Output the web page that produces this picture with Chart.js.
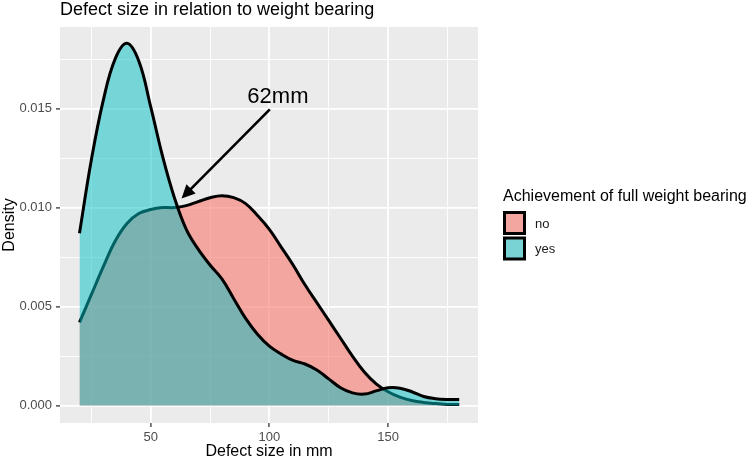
<!DOCTYPE html>
<html>
<head>
<meta charset="utf-8">
<script src="https://cdn.jsdelivr.net/npm/chart.js@4.4.1/dist/chart.umd.min.js"></script>
<style>
html,body{margin:0;padding:0;background:#fff;}
#wrap{width:750px;height:461px;position:relative;}
canvas{display:block;}
</style>
</head>
<body>
<div id="wrap"><canvas id="c" width="750" height="461"></canvas></div>
<script>
// ---- data ----
const defectSizes = [20,25,30,35,40,45,50,55,60,65,70,75,80,85,90,95,100,105,110,115,120,125,130,135,140,145,150,155,160,165,170,175,180];
const densityNo  = [0.0042,0.0056,0.0070,0.0083,0.0092,0.0097,0.0099,0.0100,0.0100,0.0101,0.0103,0.0105,0.0106,0.0105,0.0102,0.0096,0.0089,0.0080,0.0071,0.0061,0.0052,0.0043,0.0034,0.0025,0.0017,0.0011,0.0007,0.00043,0.00026,0.00016,0.0001,0.00006,0.00005];
const densityYes = [0.0087,0.0124,0.0154,0.0175,0.0183,0.0174,0.0151,0.0126,0.0105,0.0089,0.0079,0.0071,0.0064,0.0054,0.0044,0.0036,0.0030,0.0026,0.00228,0.0021,0.0018,0.00135,0.0009,0.00064,0.00058,0.00074,0.0009,0.00088,0.0007,0.00046,0.00035,0.00031,0.00031];
const seriesNames = ['no','yes'];
const xTicks = [25,50,75,100,125,150,175];
const xTickLabels = ['','50','','100','','150',''];
const yTicks = [0,0.0025,0.005,0.0075,0.01,0.0125,0.015,0.0175];
const yTickLabels = ['0.000','','0.005','','0.010','','0.015',''];
const noteText = '62mm';
const noteArrow = [100.2, 0.01496, 63, 0.01046]; // from (x,y) to (x,y) in data units
const notePos = [103.6, 0.01528];

const FAMILY = "'Liberation Sans', Arial, Helvetica, sans-serif";
Chart.defaults.font.family = FAMILY;

const fills = ['rgba(248,118,109,0.6)', 'rgba(0,191,196,0.5)'];
const keyFills = ['#F3A59F', '#79D3D5'];

const panelBg = {
  id: 'panelBg',
  beforeDraw(chart) {
    const {ctx, chartArea: a} = chart;
    ctx.save();
    ctx.fillStyle = '#ffffff';
    ctx.fillRect(0, 0, chart.width, chart.height);
    ctx.fillStyle = '#EBEBEB';
    ctx.fillRect(a.left, a.top, a.right - a.left, a.bottom - a.top);
    ctx.restore();
  }
};

const notePlugin = {
  id: 'note',
  afterDatasetsDraw(chart) {
    const {ctx, scales: {x, y}} = chart;
    const x1 = x.getPixelForValue(noteArrow[0]), y1 = y.getPixelForValue(noteArrow[1]);
    const x2 = x.getPixelForValue(noteArrow[2]), y2 = y.getPixelForValue(noteArrow[3]);
    const ang = Math.atan2(y2 - y1, x2 - x1);
    const hl = 15, hw = Math.PI / 7;
    ctx.save();
    ctx.strokeStyle = '#000'; ctx.fillStyle = '#000';
    ctx.lineWidth = 2.6; ctx.lineCap = 'butt';
    ctx.beginPath();
    ctx.moveTo(x1, y1);
    ctx.lineTo(x2 - Math.cos(ang) * hl * 0.8, y2 - Math.sin(ang) * hl * 0.8);
    ctx.stroke();
    ctx.beginPath();
    ctx.moveTo(x2, y2);
    ctx.lineTo(x2 - hl * Math.cos(ang - hw), y2 - hl * Math.sin(ang - hw));
    ctx.lineTo(x2 - hl * Math.cos(ang + hw), y2 - hl * Math.sin(ang + hw));
    ctx.closePath();
    ctx.fill();
    ctx.font = '22px ' + FAMILY;
    ctx.textAlign = 'center'; ctx.textBaseline = 'alphabetic';
    ctx.fillText(noteText, x.getPixelForValue(notePos[0]), y.getPixelForValue(notePos[1]));
    ctx.restore();
  }
};

const legendPlugin = {
  id: 'ggLegend',
  afterDraw(chart) {
    const ctx = chart.ctx;
    const left = chart.chartArea.right + 25;
    ctx.save();
    ctx.fillStyle = '#000';
    ctx.font = '16px ' + FAMILY;
    ctx.textAlign = 'left'; ctx.textBaseline = 'alphabetic';
    ctx.fillText('Achievement of full weight bearing', left, 201);
    seriesNames.forEach((name, i) => {
      const top = 212 + i * 25.5;
      ctx.fillStyle = keyFills[i];
      ctx.fillRect(left + 1.5, top + 0.5, 20, 21);
      ctx.strokeStyle = '#000'; ctx.lineWidth = 3;
      ctx.strokeRect(left + 1.5, top + 0.5, 20, 21);
      ctx.fillStyle = '#1a1a1a';
      ctx.font = '13px ' + FAMILY;
      ctx.textBaseline = 'middle';
      ctx.fillText(name, left + 32, top + 12);
    });
    ctx.restore();
  }
};

const seriesValues = [densityNo, densityYes];
const datasets = seriesNames.map((name, i) => ({
  label: name,
  data: defectSizes.map((v, k) => ({x: v, y: seriesValues[i][k]})),
  borderColor: '#000000',
  borderWidth: 3,
  borderJoinStyle: 'round',
  backgroundColor: fills[i],
  fill: 'origin',
  pointRadius: 0,
  tension: 0.4,
  order: 2 - i
}));

new Chart(document.getElementById('c'), {
  type: 'line',
  data: {datasets},
  options: {
    responsive: false,
    animation: false,
    devicePixelRatio: 1,
    layout: {padding: {left: 0, right: 272, top: 0, bottom: 0}},
    plugins: {
      legend: {display: false},
      tooltip: {enabled: false},
      title: {
        display: true, text: 'Defect size in relation to weight bearing',
        align: 'start', fullSize: false, color: '#000',
        font: {size: 18, weight: 'normal', lineHeight: 1},
        padding: {top: 1, bottom: 8}
      }
    },
    scales: {
      x: {
        type: 'linear', min: 11.8, max: 187.9,
        afterBuildTicks: s => { s.ticks = xTicks.map(v => ({value: v})); },
        afterFit: s => { s.height = 38; },
        ticks: {autoSkip: false, maxRotation: 0, color: '#4D4D4D', font: {size: 13}, padding: 3,
                callback: (v, i) => xTickLabels[i]},
        grid: {color: '#ffffff', lineWidth: c => (xTickLabels[c.index] ? 1.8 : 0.9),
               tickColor: c => (xTickLabels[c.index] ? '#333333' : 'rgba(0,0,0,0)'),
               tickLength: 4, tickWidth: 1.3},
        border: {display: false},
        title: {display: true, text: 'Defect size in mm', color: '#000', font: {size: 16}, padding: {top: 0, bottom: 0}}
      },
      y: {
        type: 'linear', min: -0.00088, max: 0.01912,
        afterBuildTicks: s => { s.ticks = yTicks.map(v => ({value: v})); },
        afterFit: s => { s.width = 60; },
        ticks: {autoSkip: false, color: '#4D4D4D', font: {size: 13}, padding: 4,
                callback: (v, i) => yTickLabels[i]},
        grid: {color: '#ffffff', lineWidth: c => (yTickLabels[c.index] ? 1.8 : 0.9),
               tickColor: c => (yTickLabels[c.index] ? '#333333' : 'rgba(0,0,0,0)'),
               tickLength: 4, tickWidth: 1.3},
        border: {display: false},
        title: {display: true, text: 'Density', color: '#000', font: {size: 16}, padding: {top: 0, bottom: 0}}
      }
    }
  },
  plugins: [panelBg, notePlugin, legendPlugin]
});
</script>
</body>
</html>
